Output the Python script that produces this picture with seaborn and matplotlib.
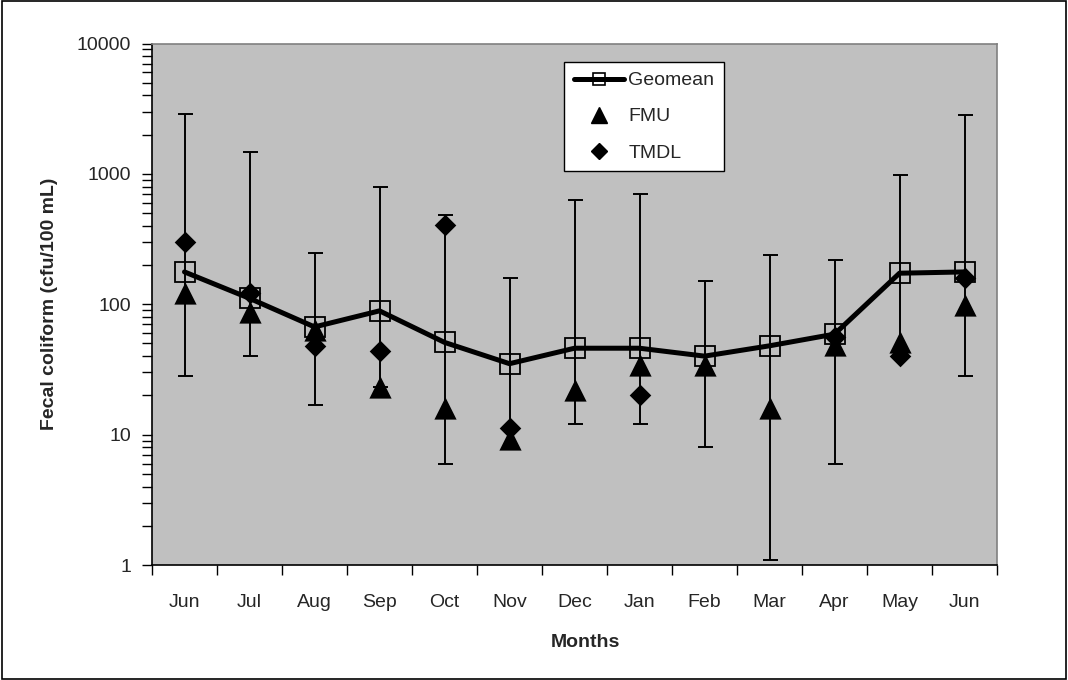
import numpy as np
import pandas as pd
import matplotlib
matplotlib.use("Agg")
import matplotlib.pyplot as plt
from matplotlib.lines import Line2D
from matplotlib.patches import Rectangle
from matplotlib.ticker import FixedLocator, NullFormatter, LogLocator, FixedFormatter
import seaborn as sns

# Monthly fecal coliform summary (cfu/100 mL)
months = ["Jun", "Jul", "Aug", "Sep", "Oct", "Nov", "Dec",
          "Jan", "Feb", "Mar", "Apr", "May", "Jun"]
geomean = [177, 111, 67, 89, 51, 35, 46, 46, 40, 48, 59, 173, 177]
range_max = [2860, 1470, 248, 797, 483, 160, 630, 700, 151, 238, 218, 979, 2850]
range_min = [28, 40, 17, 23, 6, 8, 12, 12, 8, 1.1, 6, 45, 28]
fmu = [121, 87, 64, 23, 16, 9.3, 22, 34, 34, 16, 49, 51, 98]
tmdl = [300, 122, 48, 44, 405, 11.2, np.nan, 20, np.nan, np.nan, 56, 40, 160]

df = pd.DataFrame({
    "pos": np.arange(len(months)),
    "month": months,
    "geomean": geomean,
    "max": range_max,
    "min": range_min,
    "fmu": fmu,
    "tmdl": tmdl,
})

sns.set_style("white")
plt.rcParams["font.family"] = ["Liberation Sans", "DejaVu Sans"]

fig = plt.figure(figsize=(10.68, 6.8), dpi=100)
ax = fig.add_axes([152 / 1068, 1 - 565 / 680, (997 - 152) / 1068, (565 - 43.5) / 680])
ax.set_facecolor("#C0C0C0")

# min-max range around the geometric mean
yerr = np.vstack([df["geomean"] - df["min"], df["max"] - df["geomean"]])
ax.errorbar(df["pos"], df["geomean"], yerr=yerr, fmt="none", ecolor="black",
            elinewidth=1.4, capsize=5.4, capthick=1.4, zorder=2)

sns.lineplot(data=df, x="pos", y="geomean", ax=ax, color="black", linewidth=3.6,
             marker="s", markersize=14, markerfacecolor="none",
             markeredgecolor="black", markeredgewidth=1.3, zorder=3,
             legend=False)
sns.scatterplot(data=df, x="pos", y="fmu", ax=ax, marker="^", s=16 ** 2,
                color="black", edgecolor="black", linewidth=0, zorder=4,
                legend=False)
sns.scatterplot(data=df.dropna(subset=["tmdl"]), x="pos", y="tmdl", ax=ax,
                marker="D", s=11 ** 2, color="black", edgecolor="black",
                linewidth=0, zorder=5, legend=False)

ax.set_yscale("log")
ax.set_ylim(1, 10000)
ax.set_xlim(-0.5, len(months) - 0.5)

ax.yaxis.set_major_locator(FixedLocator([1, 10, 100, 1000, 10000]))
ax.yaxis.set_major_formatter(FixedFormatter(["1", "10", "100", "1000", "10000"]))
ax.yaxis.set_minor_locator(LogLocator(base=10, subs=np.arange(2, 10)))
ax.yaxis.set_minor_formatter(NullFormatter())

ax.set_xticks(df["pos"])
ax.set_xticklabels(months)
ax.xaxis.set_minor_locator(FixedLocator(np.arange(-0.5, len(months), 1.0)))

ax.tick_params(axis="x", which="major", length=0, pad=21, labelsize=14)
ax.tick_params(axis="x", which="minor", length=7, width=1, color="black",
               direction="out", bottom=True)
ax.tick_params(axis="y", which="both", length=7, width=1, color="black",
               direction="out", left=True, pad=8, labelsize=14)

for side in ["top", "right"]:
    ax.spines[side].set_color("#808080")
    ax.spines[side].set_linewidth(1.2)
for side in ["left", "bottom"]:
    ax.spines[side].set_color("black")
    ax.spines[side].set_linewidth(1.2)

ax.set_xlabel("Months", fontsize=14, fontweight="bold")
ax.set_ylabel("Fecal coliform (cfu/100 mL)", fontsize=14, fontweight="bold")
ax.xaxis.set_label_coords(0.513, -0.132)
ax.yaxis.set_label_coords(-0.111, 0.5)

handles = [
    Line2D([], [], color="black", linewidth=3.6, marker="s", markersize=9,
           markerfacecolor="none", markeredgecolor="black", markeredgewidth=1.2),
    Line2D([], [], linestyle="none", color="black", marker="^", markersize=11),
    Line2D([], [], linestyle="none", color="black", marker="D", markersize=8),
]
leg = ax.legend(handles, ["Geomean", "FMU", "TMDL"], loc="upper left",
                bbox_to_anchor=(0.4876, 0.9645), borderaxespad=0, fontsize=14,
                frameon=True, fancybox=False, framealpha=1, edgecolor="black",
                handlelength=2.6, handletextpad=0.2, labelspacing=0.95,
                borderpad=0.5)
leg.get_frame().set_linewidth(1.0)
leg.get_frame().set_facecolor("white")

# outer chart frame
fig.patches.append(Rectangle((0.002, 0.002), 0.996, 0.996, transform=fig.transFigure,
                             fill=False, edgecolor="black", linewidth=1.2))

fig.savefig("out.png", dpi=100)
